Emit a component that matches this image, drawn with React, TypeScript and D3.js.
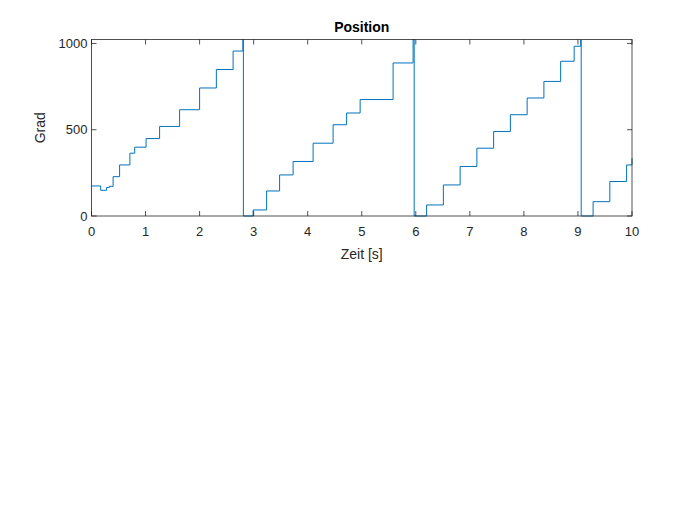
import * as d3 from "d3";

const seg1T = [0, 0.17, 0.28, 0.33, 0.4, 0.52, 0.71, 0.8, 1.01, 1.26, 1.63, 2.0, 2.31, 2.62, 2.8];
const seg1V = [174, 149, 165, 172, 228, 296, 364, 399, 449, 519, 616, 742, 849, 956, 1023];
const seg2T = [2.81, 2.99, 3.24, 3.48, 3.73, 4.1, 4.47, 4.72, 4.97, 5.58, 5.95];
const seg2V = [0, 35, 145, 238, 316, 422, 529, 597, 675, 887, 1023];
const seg3T = [5.97, 6.2, 6.51, 6.82, 7.13, 7.44, 7.75, 8.06, 8.37, 8.68, 8.93, 9.05];
const seg3V = [0, 64, 180, 287, 393, 490, 587, 684, 780, 897, 984, 1020];
const seg4T = [9.06, 9.28, 9.59, 9.9, 10];
const seg4V = [0, 83, 200, 296, 335];

const xTicks = [0, 1, 2, 3, 4, 5, 6, 7, 8, 9, 10];
const yTicks = [0, 500, 1000];

const W = 700, H = 525;
const L = 91.5, R = 632, T = 39.5, B = 216;
const font = "'Liberation Sans', Arial, sans-serif";
const axisColor = "#262626";

export default function App() {
  const x = d3.scaleLinear().domain([0, 10]).range([L, R]);
  const y = d3.scaleLinear().domain([0, 1023]).range([B, T]);
  const pts: [number, number][] = [];
  [[seg1T, seg1V], [seg2T, seg2V], [seg3T, seg3V], [seg4T, seg4V]].forEach(([ts, vs]) =>
    ts.forEach((t, i) => pts.push([t, vs[i]]))
  );
  const line = d3.line<[number, number]>().x((d) => x(d[0])).y((d) => y(d[1])).curve(d3.curveStepAfter);

  return (
    <svg width={W} height={H} style={{ position: "absolute", left: 0, top: 0, background: "#fff" }}>
      <rect x={L} y={T} width={R - L} height={B - T} fill="#fff" />
      <path d={line(pts) ?? ""} fill="none" stroke="#0072BD" strokeWidth={1} />
      <rect x={L} y={T} width={R - L} height={B - T} fill="none" stroke={axisColor} strokeWidth={0.8} />
      {xTicks.map((t) => (
        <g key={"x" + t}>
          <line x1={x(t)} x2={x(t)} y1={B} y2={B - 5} stroke={axisColor} strokeWidth={0.8} />
          <line x1={x(t)} x2={x(t)} y1={T} y2={T + 5} stroke={axisColor} strokeWidth={0.8} />
          <text x={x(t)} y={B + 20} textAnchor="middle" fontFamily={font} fontSize={13} fill={axisColor}>
            {t}
          </text>
        </g>
      ))}
      {yTicks.map((t) => (
        <g key={"y" + t}>
          <line x1={L} x2={L + 5} y1={y(t)} y2={y(t)} stroke={axisColor} strokeWidth={0.8} />
          <line x1={R} x2={R - 5} y1={y(t)} y2={y(t)} stroke={axisColor} strokeWidth={0.8} />
          <text x={L - 4} y={y(t) + 4.5} textAnchor="end" fontFamily={font} fontSize={13} fill={axisColor}>
            {t}
          </text>
        </g>
      ))}
      <text x={(L + R) / 2} y={32} textAnchor="middle" fontFamily={font} fontSize={14} fontWeight="bold" fill="#000">
        Position
      </text>
      <text x={(L + R) / 2} y={259} textAnchor="middle" fontFamily={font} fontSize={14} fill={axisColor}>
        Zeit [s]
      </text>
      <text
        transform={`translate(45,${(T + B) / 2}) rotate(-90)`}
        textAnchor="middle"
        fontFamily={font}
        fontSize={14}
        fill={axisColor}
      >
        Grad
      </text>
    </svg>
  );
}
